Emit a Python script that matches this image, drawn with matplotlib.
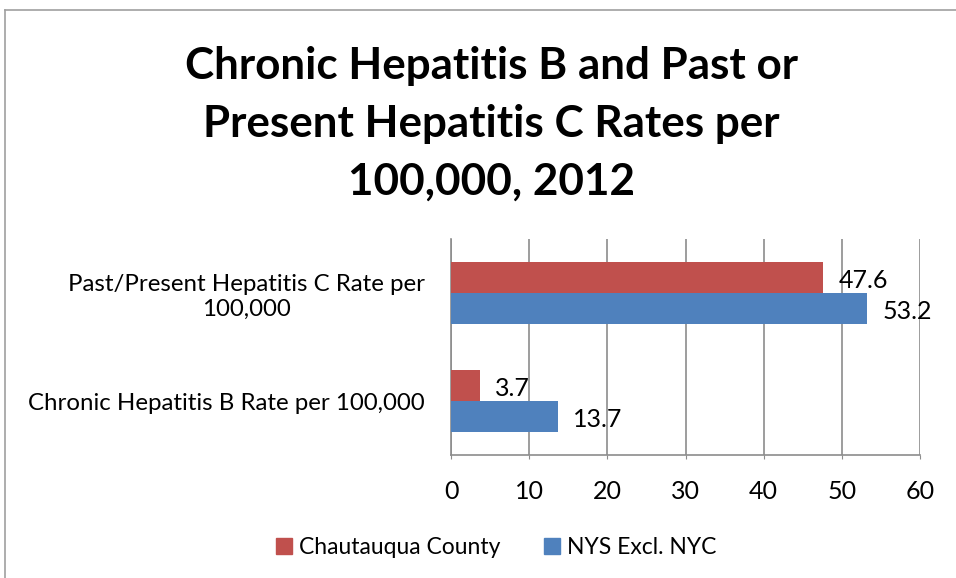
import matplotlib
matplotlib.use("Agg")
import matplotlib.pyplot as plt
from matplotlib.lines import Line2D
from matplotlib.patches import Patch

plt.rcParams['font.family'] = ['Lato', 'DejaVu Sans']

categories = ["Chronic Hepatitis B Rate per 100,000", "Past/Present Hepatitis C Rate per\n100,000"]
series_names = ["Chautauqua County", "NYS Excl. NYC"]
chautauqua = [3.7, 47.6]
nys = [13.7, 53.2]
xticks = [0, 10, 20, 30, 40, 50, 60]
title = "Chronic Hepatitis B and Past or\nPresent Hepatitis C Rates per\n100,000, 2012"

red = "#C0504D"
blue = "#4F81BD"
grid = "#8C8C8C"

fig = plt.figure(figsize=(9.56, 5.78), dpi=100)
ax = fig.add_axes([0.4718, 0.2128, 0.4906, 0.3737])

h = 0.284
ypos = list(range(len(categories)))
ax.barh([y + h / 2 for y in ypos], chautauqua, height=h, color=red, label=series_names[0], zorder=3)
ax.barh([y - h / 2 for y in ypos], nys, height=h, color=blue, label=series_names[1], zorder=3)

for y, v in zip(ypos, chautauqua):
    ax.annotate(f"{v}", (v, y + h / 2), xytext=(11, -2), textcoords="offset points",
                va="center", ha="left", fontsize=18, color="black", zorder=4)
for y, v in zip(ypos, nys):
    ax.annotate(f"{v}", (v, y - h / 2), xytext=(11, -2), textcoords="offset points",
                va="center", ha="left", fontsize=18, color="black", zorder=4)

ax.set_xlim(0, 60)
ax.set_ylim(-0.5, 1.5)
ax.set_xticks(xticks)
ax.set_xticklabels([str(t) for t in xticks], fontsize=18)
ax.set_yticks(ypos)
ax.set_yticklabels(categories, fontsize=17.3, multialignment="center")
ax.tick_params(axis="y", length=0, pad=19)
ax.tick_params(axis="x", length=3, color=grid, pad=15)
ax.grid(axis="x", color=grid, linewidth=1.2, zorder=0)
for s in ["top", "right"]:
    ax.spines[s].set_visible(False)
for s in ["left", "bottom"]:
    ax.spines[s].set_color(grid)
    ax.spines[s].set_linewidth(1.2)

fig.text(0.514, 0.786, title, ha="center", va="center", fontsize=31.7, fontweight="bold",
         linespacing=1.55)

handles = [Patch(color=red), Patch(color=blue)]
fig.legend(handles, series_names, loc="center", bbox_to_anchor=(0.519, 0.052), ncol=2,
           frameon=False, fontsize=16.5, handlelength=0.7, handleheight=0.7,
           handletextpad=0.3, columnspacing=1.9)

fig.add_artist(Line2D([5 / 956, 1], [1 - 10 / 578, 1 - 10 / 578], transform=fig.transFigure,
                      color="#A0A0A0", linewidth=1.2))
fig.add_artist(Line2D([5 / 956, 5 / 956], [0, 1 - 10 / 578], transform=fig.transFigure,
                      color="#A0A0A0", linewidth=1.2))

fig.savefig("out.png", dpi=100)
